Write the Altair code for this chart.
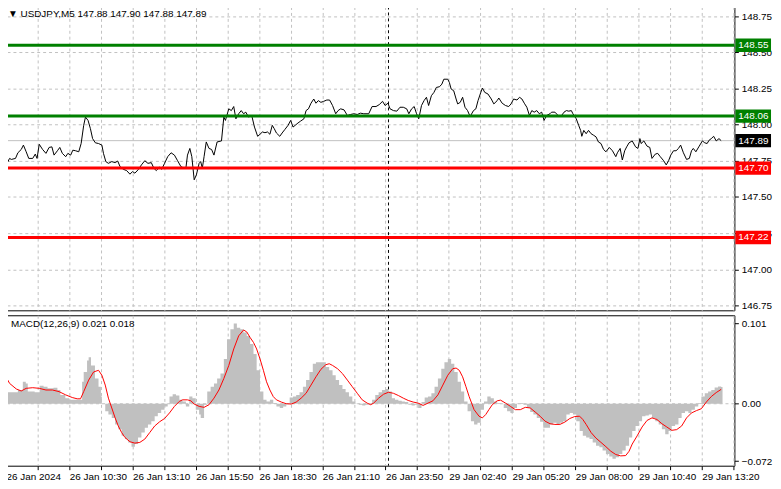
import altair as alt
import pandas as pd

# ---------------- data ----------------
title_text = "▼  USDJPY,M5  147.88 147.90 147.88 147.89"
macd_text = "MACD(12,26,9) 0.021 0.018"

x_labels = ["26 Jan 2024", "26 Jan 10:30", "26 Jan 13:10", "26 Jan 15:50",
            "26 Jan 18:30", "26 Jan 21:10", "26 Jan 23:50", "29 Jan 02:40",
            "29 Jan 05:20", "29 Jan 08:00", "29 Jan 10:40", "29 Jan 13:20"]
label_step = 32      # bars between time labels
grid_step = 16       # bars between vertical grid lines
separator_bar = 193.5  # day separator (29 Jan 00:00)

price_points = [
    (0, 147.720), (1.8, 147.767), (2.7, 147.760), (4.8, 147.767), (6, 147.806), (7.7, 147.829),
    (8.8, 147.859), (10.2, 147.813), (11.5, 147.767), (13.5, 147.767), (14.8, 147.797), (15.7, 147.767),
    (16.8, 147.865), (18.5, 147.829), (20.2, 147.802), (21.8, 147.843), (23.2, 147.847), (24.3, 147.790),
    (26, 147.820), (27.2, 147.843), (28.5, 147.802), (30.2, 147.779), (31.3, 147.802), (32.7, 147.790),
    (33.8, 147.824), (35.2, 147.820), (36.8, 147.813), (38, 147.870), (39.3, 147.996), (40.2, 148.053),
    (41.5, 148.030), (42.7, 147.973), (43.8, 147.904), (45.2, 147.875), (46.8, 147.870), (48.5, 147.859),
    (49.3, 147.802), (50.5, 147.745), (51.8, 147.733), (53.5, 147.745), (55.2, 147.738), (56.5, 147.749),
    (57.7, 147.710), (59.3, 147.692), (61, 147.683), (62.7, 147.658), (64, 147.676), (65.2, 147.665),
    (66.8, 147.688), (68.5, 147.722), (70.2, 147.751), (71.8, 147.733), (73.5, 147.738), (74.8, 147.699),
    (76, 147.683), (77.7, 147.706), (78.8, 147.692), (80.2, 147.733), (81.8, 147.779), (83.5, 147.806),
    (85.2, 147.790), (86.8, 147.751), (88.5, 147.710), (90.2, 147.699),
    (91, 147.700), (91.8, 147.790), (93, 147.836), (94, 147.779), (95.2, 147.619), (96.3, 147.653),
    (97.7, 147.733), (98.5, 147.745), (99.3, 147.699), (100.2, 147.779), (101.3, 147.881), (102.7, 147.836),
    (104, 147.829), (105.2, 147.790), (106.8, 147.881), (109, 147.888), (110.2, 148.053), (111, 148.030),
    (112.7, 148.110), (114, 148.098), (115.2, 148.126), (116.3, 148.041), (117.7, 148.076), (119, 148.098),
    (120.2, 148.076), (121.3, 148.087), (122.7, 148.053), (124.3, 148.064), (125.7, 147.984), (127.3, 147.920),
    (128.5, 147.934), (129.7, 147.950), (131, 147.945), (132.3, 147.950), (133.5, 147.934), (134.7, 147.996),
    (135.7, 147.973), (136.8, 147.943), (138.5, 147.920), (139.7, 147.943), (141, 147.966), (142.7, 147.996),
    (144, 148.030), (145.2, 147.984), (146.3, 147.996), (147.7, 148.012), (149, 148.025), (150.7, 148.041),
    (151.8, 148.098), (153, 148.110), (154.3, 148.149), (155.7, 148.178), (156.8, 148.149), (158, 148.167),
    (159.3, 148.155), (160.7, 148.162), (162.3, 148.171), (163.7, 148.171), (165.2, 148.133), (166.8, 148.076),
    (168, 148.098), (169.3, 148.110), (171, 148.103), (172.7, 148.064), (174.3, 148.071), (176, 148.076),
    (177.7, 148.071), (179.3, 148.080), (181, 148.076),
    (183.5, 148.076), (185.2, 148.126), (187.2, 148.126), (188.8, 148.139), (190.5, 148.162), (191.8, 148.133),
    (193.2, 148.149), (194.3, 148.110), (196, 148.098), (197.7, 148.094), (199.3, 148.121), (201, 148.121),
    (202.7, 148.110), (203.8, 148.076), (205.2, 148.110), (206.5, 148.126), (207.7, 148.076), (208.8, 148.041),
    (210.2, 148.133), (211.5, 148.167), (212.7, 148.190), (213.8, 148.133), (215.2, 148.201), (216.5, 148.224),
    (217.7, 148.258), (219.3, 148.263), (220.5, 148.281), (221.5, 148.315), (223.5, 148.315), (224.3, 148.292),
    (225.2, 148.247), (226.5, 148.235), (227.7, 148.178), (228.5, 148.144), (229.8, 148.155), (231, 148.190),
    (232.2, 148.121), (233.5, 148.098), (234.8, 148.057), (236.5, 148.098), (237.7, 148.110), (238.8, 148.167),
    (240.2, 148.224), (241, 148.254), (242.2, 148.224), (243.8, 148.213), (245.5, 148.178), (246.8, 148.144),
    (248.5, 148.167), (249.3, 148.185), (251, 148.149), (252.7, 148.133), (254.3, 148.126), (255.5, 148.144),
    (256.8, 148.178), (258.5, 148.171), (259.8, 148.190), (261, 148.178), (262.2, 148.149), (263.5, 148.121),
    (264.8, 148.064), (266, 148.098), (267.2, 148.087), (268.5, 148.098), (269.8, 148.076), (271, 148.087),
    (272.2, 148.030), (273.5, 148.064), (275.2, 148.076),
    (276, 148.087), (277.7, 148.087), (279.3, 148.064), (280.7, 148.057), (282.3, 148.087), (283.5, 148.098),
    (284.7, 148.094), (286, 148.098), (286.8, 148.076), (287.7, 148.057), (288.5, 148.041), (289.7, 147.996),
    (290.7, 147.961), (291.3, 147.920), (292.3, 147.961), (293.5, 147.938), (294.7, 147.961), (296, 147.938),
    (297.3, 147.927), (298.5, 147.916), (299.7, 147.881), (301, 147.870), (302.3, 147.829), (303.5, 147.813),
    (305.2, 147.843), (306.8, 147.820), (308.5, 147.779), (309.3, 147.806), (310.7, 147.836), (311.8, 147.756),
    (313, 147.820), (314, 147.847), (315.2, 147.875), (316.8, 147.888), (318.5, 147.847), (319.7, 147.836),
    (320.7, 147.904), (321.3, 147.870), (322.7, 147.888), (324.3, 147.852), (325.7, 147.843), (326.8, 147.767),
    (328.5, 147.797), (329.7, 147.802), (331, 147.779), (332.7, 147.751), (334, 147.722), (335.2, 147.751),
    (336.3, 147.790), (337.7, 147.820), (339, 147.820), (340.2, 147.836), (341.3, 147.859), (342.7, 147.806),
    (344.3, 147.760), (345.7, 147.767), (346.8, 147.820), (347.7, 147.836), (349, 147.813), (350.7, 147.852),
    (352.3, 147.888), (353.5, 147.875), (354.7, 147.870), (355.7, 147.893), (356.8, 147.904), (358, 147.920),
    (359.3, 147.888), (360.7, 147.904), (361.8, 147.890),
]

hist_points = [
    (0, 0.0144), (3, 0.0144), (6, 0.0172), (8.5, 0.0275), (10, 0.0255), (11, 0.0152), (14.5, 0.0144),
    (17, 0.0226), (19, 0.0213), (21, 0.0193), (24, 0.0201), (26, 0.0172), (27.5, 0.0111), (30, 0.0070),
    (32, 0.0049), (36, 0.0049), (38.5, 0.0275), (39.3, 0.0398), (41, 0.0542), (41.8, 0.0583), (43, 0.0480),
    (45, 0.0316), (46.8, 0.0213), (48, 0.0090), (48.5, 0.0), (50.2, -0.0094), (51.8, -0.0135), (53.5, -0.0177),
    (55.2, -0.0259), (56.8, -0.0320), (58.5, -0.0402), (60.2, -0.0443), (61.8, -0.0484), (63.5, -0.0538),
    (65.2, -0.0505), (66.8, -0.0423), (68.5, -0.0361), (70.2, -0.0300), (71.8, -0.0259), (73.5, -0.0218),
    (75.2, -0.0156), (76.8, -0.0115), (78.5, -0.0074), (80.2, -0.0033), (81.8, 0.0), (82.7, 0.0090),
    (84.3, 0.0119), (86, 0.0103), (87.7, 0.0049), (89.3, 0.0029), (91, -0.0033), (92.7, 0.0090), (94.3, 0.0070),
    (96, -0.0074), (97.7, -0.0135), (98.5, -0.0177), (100.2, -0.0012), (101.8, 0.0152), (103.5, 0.0213),
    (105.2, 0.0255), (106.8, 0.0316), (108.5, 0.0378), (110.2, 0.0562), (111.8, 0.0809), (113.5, 0.0932),
    (115.2, 0.1006), (116.8, 0.0952), (118.5, 0.0932), (120.2, 0.0891), (121.8, 0.0850), (123.5, 0.0747),
    (125.2, 0.0624), (126.8, 0.0419), (128.5, 0.0152), (130.2, 0.0049), (131.8, 0.0029), (133.5, 0.0049),
    (135.2, 0.0008), (136.8, -0.0033), (138.5, -0.0053), (140.2, -0.0033), (141.8, 0.0008), (143.5, 0.0078),
    (145.2, 0.0090), (146.8, 0.0111), (148.5, 0.0144), (150.2, 0.0213), (151.8, 0.0296), (153.5, 0.0398),
    (155.2, 0.0501), (156.8, 0.0521), (158.5, 0.0521), (160.2, 0.0521), (161.8, 0.0460), (163.5, 0.0419),
    (165.2, 0.0357), (166.8, 0.0296), (168.5, 0.0234), (170.2, 0.0185), (171.8, 0.0144), (173.5, 0.0090),
    (175.2, 0.0029), (176.8, -0.0004), (178.5, -0.0012), (180.2, -0.0021), (181.8, -0.0012), (183.5, 0.0),
    (185.2, 0.0049), (186.8, 0.0111), (188.5, 0.0144), (190.2, 0.0172), (191.8, 0.0185), (193.5, 0.0152),
    (195.2, 0.0070), (196.8, 0.0049), (198.5, 0.0037), (200.2, 0.0029), (201.8, 0.0021), (203.5, -0.0012),
    (205.2, -0.0021), (206.8, -0.0012), (208.5, -0.0053), (210.2, 0.0021), (211.8, 0.0078), (213.5, 0.0090),
    (215.2, 0.0131), (216.8, 0.0213), (218.5, 0.0316), (220.2, 0.0439), (221.8, 0.0521), (223.5, 0.0562),
    (225.2, 0.0501), (226.8, 0.0398), (228.5, 0.0275), (230.2, 0.0152), (231.8, 0.0029), (233.5, -0.0094),
    (235.2, -0.0218), (236.8, -0.0259), (238.5, -0.0238), (240.2, -0.0074), (241.8, 0.0029), (243.5, 0.0090),
    (245.2, 0.0070), (246.8, 0.0029), (248.5, 0.0008), (250.2, 0.0), (251.8, -0.0053), (253.5, -0.0094),
    (255.2, -0.0115), (256.8, -0.0053), (258.5, -0.0004), (260.2, 0.0008), (261.8, -0.0012), (263.5, -0.0053),
    (265.2, -0.0103), (266.8, -0.0135), (268.5, -0.0177), (270.2, -0.0226), (271.8, -0.0300), (273.5, -0.0300),
    (275.2, -0.0259), (276.8, -0.0238), (278.5, -0.0259), (280.2, -0.0238), (281.8, -0.0218), (283.5, -0.0135),
    (285.2, -0.0115), (286.8, -0.0135), (288.5, -0.0218), (290.2, -0.0341), (291.8, -0.0402), (293.5, -0.0423),
    (295.2, -0.0443), (296.8, -0.0484), (298.5, -0.0525), (300.2, -0.0546), (301.8, -0.0587), (303.5, -0.0628),
    (305.2, -0.0661), (306.8, -0.0690), (308.5, -0.0669), (310.2, -0.0628), (311.8, -0.0587), (313.5, -0.0525),
    (315.2, -0.0423), (316.8, -0.0341), (318.5, -0.0279), (320.2, -0.0218), (321.8, -0.0156), (323.5, -0.0148),
    (325.2, -0.0135), (326.8, -0.0177), (328.5, -0.0218), (330.2, -0.0259), (331.8, -0.0320), (333.5, -0.0382),
    (335.2, -0.0341), (336.8, -0.0279), (338.5, -0.0259), (340.2, -0.0177), (341.8, -0.0115), (343.5, -0.0094),
    (345.2, -0.0115), (346.8, -0.0074), (348.5, -0.0033), (350.2, 0.0008), (351.8, 0.0090), (353.5, 0.0131),
    (355.2, 0.0152), (356.8, 0.0172), (358.5, 0.0205), (360.2, 0.0215), (361.8, 0.0210), (362.5, 0.0210),
]

signal_points = [
    (0, 0.0337), (1.8, 0.0255), (5.2, 0.0185), (7.7, 0.0160), (10.2, 0.0193), (13.5, 0.0201), (16.8, 0.0193),
    (20.2, 0.0172), (23.5, 0.0172), (26.8, 0.0152), (30.2, 0.0111), (33.5, 0.0078), (36, 0.0062), (37.7, 0.0062),
    (39.3, 0.0152), (41.8, 0.0296), (44.3, 0.0398), (46.8, 0.0419), (48.5, 0.0357), (50.2, 0.0234), (51.8, 0.0070),
    (53.5, -0.0053), (55.2, -0.0177), (56.8, -0.0279), (58.5, -0.0361), (60.2, -0.0423), (62.7, -0.0476),
    (65.2, -0.0493), (67.7, -0.0484), (70.2, -0.0443), (72.7, -0.0361), (75.2, -0.0279), (77.7, -0.0226),
    (80.2, -0.0185), (82.7, -0.0115), (85.2, -0.0033), (87.7, 0.0029), (89.3, 0.0049), (91.8, 0.0049),
    (93.5, 0.0037), (95.2, -0.0004), (97.7, -0.0033), (100.2, -0.0045), (102.7, -0.0012), (105.2, 0.0070),
    (107.7, 0.0172), (110.2, 0.0316), (112.7, 0.0480), (115.2, 0.0686), (117.7, 0.0850), (120.2, 0.0924),
    (121.8, 0.0899), (123.5, 0.0829), (125.2, 0.0768), (126.8, 0.0686), (128.5, 0.0562), (130.2, 0.0419),
    (131.8, 0.0275), (133.5, 0.0172), (135.2, 0.0090), (136.8, 0.0049), (139.3, 0.0021), (141.8, 0.0),
    (144.3, -0.0004), (146.8, 0.0021), (149.3, 0.0070), (151.8, 0.0131), (154.3, 0.0234), (156.8, 0.0337),
    (159.3, 0.0431), (161.8, 0.0489), (163.5, 0.0501), (165.2, 0.0480), (167.7, 0.0439), (170.2, 0.0378),
    (172.7, 0.0296), (175.2, 0.0213), (177.7, 0.0131), (180.2, 0.0049), (182.7, 0.0008), (184.5, -0.0012),
    (186, 0.0008), (188.5, 0.0070), (191, 0.0119), (193.5, 0.0144), (196, 0.0131), (198.5, 0.0103),
    (201, 0.0070), (203.5, 0.0041), (206, 0.0021), (208.5, 0.0008), (211, -0.0021), (213.5, 0.0008),
    (216, 0.0037), (218.5, 0.0111), (221, 0.0234), (223.5, 0.0357), (226, 0.0439), (227.7, 0.0447),
    (229.3, 0.0419), (231, 0.0337), (232.7, 0.0213), (234.3, 0.0090), (236.8, -0.0074), (239.3, -0.0156),
    (241, -0.0177), (242.7, -0.0135), (244.3, -0.0074), (246, -0.0012), (248.5, 0.0037), (250.2, 0.0045),
    (252.7, 0.0008), (255.2, -0.0033), (257.7, -0.0074), (260.2, -0.0074), (262.7, -0.0045), (265.2, -0.0053),
    (267.7, -0.0103), (270.2, -0.0156), (272.7, -0.0218), (275.2, -0.0250), (277.7, -0.0259), (280.2, -0.0259),
    (282.7, -0.0230), (285.2, -0.0185), (287.7, -0.0160), (290.2, -0.0156), (291.8, -0.0197), (293.5, -0.0259),
    (296, -0.0361), (298.5, -0.0431), (301, -0.0484), (303.5, -0.0538), (306, -0.0595), (308.5, -0.0636),
    (311, -0.0653), (313.5, -0.0649), (315.2, -0.0595), (316.8, -0.0505), (319.3, -0.0402), (321.8, -0.0291),
    (324.3, -0.0209), (326.8, -0.0177), (329.3, -0.0197), (331.8, -0.0250), (334.3, -0.0291), (336.8, -0.0333),
    (339.3, -0.0324), (341.8, -0.0279), (344.3, -0.0177), (346.8, -0.0115), (349.3, -0.0086), (351.8, -0.0062),
    (354.3, 0.0021), (356.8, 0.0090), (359.3, 0.0140), (361.8, 0.0180),
]

level_prices = [148.55, 148.06, 147.70, 147.22]
level_colors = ["#008000", "#008000", "#ff0000", "#ff0000"]
current_price = 147.89
price_ticks = [146.75, 147.00, 147.25, 147.50, 147.75, 148.00, 148.25, 148.50, 148.75]
macd_ticks = [-0.072, 0.0, 0.101]

# ---------------- layout ----------------
W, H1, H2 = 737, 307, 152
FONT = "Liberation Sans"
x_domain = [-0.5, 368.5]
price_domain = [146.716, 148.818]
macd_domain = [-0.0776, 0.1108]
box_half = 0.046

price_df = pd.DataFrame(price_points, columns=["bar", "price"])
hist_df = pd.DataFrame(hist_points, columns=["bar", "macd"])
sig_df = pd.DataFrame(signal_points, columns=["bar", "signal"])
levels_df = pd.DataFrame({"price": level_prices, "col": level_colors})
boxes_df = pd.DataFrame({
    "price": level_prices + [current_price],
    "col": level_colors + ["#000000"],
})
boxes_df["lo"] = boxes_df["price"] - box_half
boxes_df["hi"] = boxes_df["price"] + box_half
boxes_df["label"] = boxes_df["price"].map(lambda v: f"{v:.2f}")

grid_vals = list(range(0, 369, grid_step))
lab_arr = []
for g in grid_vals:
    if g % label_step == 0 and g // label_step < len(x_labels):
        lab_arr.append(x_labels[g // label_step])
    else:
        lab_arr.append("")
label_expr = "[" + ",".join("'" + s + "'" for s in lab_arr) + "][round(datum.value/%d)]" % grid_step

xscale = alt.Scale(domain=x_domain, nice=False, zero=False)
gridc = "#c0c0c0"

x_axis_top = alt.Axis(values=grid_vals, grid=True, gridDash=[3, 3], gridColor=gridc,
                      labels=False, ticks=False, domain=False, title=None)
x_axis_bot = alt.Axis(values=grid_vals, grid=True, gridDash=[3, 3], gridColor=gridc,
                      labelExpr=label_expr, labelAlign="left", labelFontSize=10,
                      labelColor="black", tickColor="black", tickSize=4, domain=False,
                      title=None, labelOverlap=False, labelPadding=2, labelFont=FONT,
                      labelBound=False)

pscale = alt.Scale(domain=price_domain, nice=False, zero=False)
p_axis = alt.Axis(orient="right", values=price_ticks, format=".2f", grid=True, gridDash=[3, 3],
                  gridColor=gridc, domain=False, tickColor="black", tickSize=4,
                  labelColor="black", labelFontSize=10, title=None, labelOverlap=False,
                  labelPadding=3, labelFont=FONT)

mscale = alt.Scale(domain=macd_domain, nice=False, zero=False)
m_axis = alt.Axis(orient="right", values=macd_ticks,
                  labelExpr="datum.value == 0 ? '0.00' : format(datum.value, '.3f')",
                  grid=False, domain=False, tickColor="black", tickSize=4,
                  labelColor="black", labelFontSize=10, title=None, labelOverlap=False,
                  labelPadding=3, labelFont=FONT)

def X(field, axis):
    return alt.X(field, type="quantitative", scale=xscale, axis=axis)

def YP(field):
    return alt.Y(field, type="quantitative", scale=pscale, axis=p_axis)

def YM(field):
    return alt.Y(field, type="quantitative", scale=mscale, axis=m_axis)

# ---- top panel ----
price_line = alt.Chart(price_df).mark_line(color="black", strokeWidth=1).encode(
    x=X("bar", x_axis_top), y=YP("price"))

cur_rule = alt.Chart(pd.DataFrame({"price": [current_price]})).mark_rule(
    color="#c0c0c0", strokeWidth=1).encode(y=YP("price"))

level_rules = alt.Chart(levels_df).mark_rule(strokeWidth=3).encode(
    y=YP("price"), color=alt.Color("col:N", scale=None))

sep_top = alt.Chart(pd.DataFrame({"bar": [separator_bar]})).mark_rule(
    color="black", strokeDash=[3, 3], strokeWidth=1).encode(x=X("bar", x_axis_top))

boxes = alt.Chart(boxes_df).mark_rect().encode(
    x=alt.value(W + 1), x2=alt.value(W + 37),
    y=YP("hi"), y2="lo:Q", color=alt.Color("col:N", scale=None))

box_text = alt.Chart(boxes_df).mark_text(
    align="left", baseline="middle", color="white", fontSize=10, font=FONT).encode(
    x=alt.value(W + 4), y=YP("price"), text="label:N")

title_mark = alt.Chart(pd.DataFrame({"t": [title_text]})).mark_text(
    align="left", baseline="top", fontSize=10, font=FONT, color="black").encode(
    x=alt.value(3), y=alt.value(3), text="t:N")

top = alt.layer(cur_rule, sep_top, price_line, level_rules, boxes, box_text, title_mark).properties(
    width=W, height=H1)

# ---- bottom panel ----
hist = alt.Chart(hist_df).mark_area(interpolate="step-after", color="#c0c0c0").encode(
    x=X("bar", x_axis_bot), y=YM("macd"), y2=alt.datum(0))

zero_rule = alt.Chart(pd.DataFrame({"v": [0.0]})).mark_rule(
    color="#c0c0c0", strokeDash=[3, 3]).encode(y=YM("v"))

sig_line = alt.Chart(sig_df).mark_line(color="#ff0000", strokeWidth=1).encode(
    x=X("bar", x_axis_bot), y=YM("signal"))

sep_bot = alt.Chart(pd.DataFrame({"bar": [separator_bar]})).mark_rule(
    color="black", strokeDash=[3, 3], strokeWidth=1).encode(x=X("bar", x_axis_bot))

macd_label = alt.Chart(pd.DataFrame({"t": [macd_text]})).mark_text(
    align="left", baseline="top", fontSize=10, font=FONT, color="black").encode(
    x=alt.value(6), y=alt.value(4), text="t:N")

bottom = alt.layer(zero_rule, sep_bot, hist, sig_line, macd_label).properties(width=W, height=H2)

chart = alt.vconcat(top, bottom, spacing=3).configure(
    font=FONT, padding={"left": -5, "top": -5, "right": 0, "bottom": 0}
).configure_view(stroke="black", strokeWidth=1)

chart.save("out.html", embed_options={"renderer": "svg", "actions": False})
